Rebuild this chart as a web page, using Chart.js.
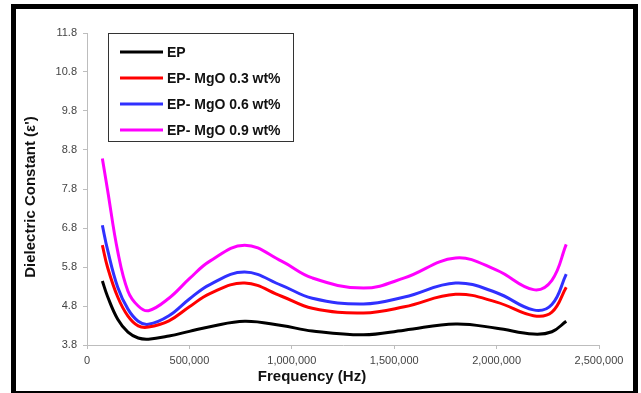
<!DOCTYPE html>
<html>
<head>
<meta charset="utf-8">
<script src="https://cdn.jsdelivr.net/npm/chart.js@4/dist/chart.umd.min.js"></script>
<style>
  html, body { margin: 0; padding: 0; background: #fff; }
  #frame {
    position: absolute; left: 11px; top: 4px;
    width: 627px; height: 392px;
    box-sizing: border-box;
    border: 5px solid #000;
    background: #fff;
  }
  #wrap { position: relative; width: 617px; height: 382px; }
</style>
</head>
<body>
<div id="frame">
  <div id="wrap"><canvas id="dielChart"></canvas></div>
</div>

<script>
// frequency points (Hz)
var freqs = [75000, 100000, 150000, 200000, 250000, 300000, 400000, 500000, 600000,
             770000, 950000, 1100000, 1350000, 1550000, 1800000, 2000000, 2180000, 2270000, 2340000];

// dielectric constant
var epValues    = [5.44, 5.05, 4.46, 4.13, 3.98, 3.95, 4.03, 4.15, 4.27, 4.41, 4.30, 4.16, 4.06, 4.18, 4.34, 4.23, 4.08, 4.14, 4.41];
var mgo03Values = [6.36, 5.80, 5.03, 4.54, 4.29, 4.26, 4.42, 4.78, 5.12, 5.39, 5.05, 4.74, 4.62, 4.78, 5.10, 4.90, 4.55, 4.64, 5.28];
var mgo06Values = [6.87, 6.25, 5.28, 4.72, 4.41, 4.33, 4.55, 4.98, 5.35, 5.67, 5.33, 5.00, 4.85, 5.03, 5.39, 5.14, 4.70, 4.84, 5.62];
var mgo09Values = [8.58, 7.79, 6.20, 5.18, 4.80, 4.68, 5.00, 5.50, 5.95, 6.36, 5.95, 5.52, 5.26, 5.52, 6.03, 5.72, 5.22, 5.46, 6.38];

var seriesNames  = ['EP', 'EP- MgO 0.3 wt%', 'EP- MgO 0.6 wt%', 'EP- MgO 0.9 wt%'];
var seriesColors = ['#000000', '#ff0000', '#3030ff', '#ff00ff'];
var allValues    = [epValues, mgo03Values, mgo06Values, mgo09Values];

var xTicks = [0, 500000, 1000000, 1500000, 2000000, 2500000];
var yMin = 3.8, yMax = 11.8, yStep = 1;

function toPoints(vals) {
    return vals.map(function(v, i) { return { x: freqs[i], y: v }; });
}

var datasets = allValues.map(function(vals, i) {
    return {
        label: seriesNames[i],
        data: toPoints(vals),
        borderColor: seriesColors[i],
        backgroundColor: seriesColors[i],
        borderWidth: 3,
        pointRadius: 0,
        tension: 0.4,
        fill: false
    };
});

// legend box inside the plot + axis titles
var extras = {
    id: 'extras',
    afterDraw: function(chart) {
        var ctx = chart.ctx;
        var area = chart.chartArea;
        ctx.save();

        // legend
        var bx = area.left + 21, by = area.top, bw = 185, bh = 108;
        ctx.fillStyle = '#fff';
        ctx.fillRect(bx, by, bw, bh);
        ctx.strokeStyle = '#333';
        ctx.lineWidth = 1;
        ctx.strokeRect(bx + 0.5, by + 0.5, bw, bh);
        ctx.font = 'bold 14px "Liberation Sans", Arial, sans-serif';
        ctx.textBaseline = 'middle';
        chart.data.datasets.forEach(function(ds, i) {
            var y = by + 19 + i * 26;
            ctx.strokeStyle = ds.borderColor;
            ctx.lineWidth = 3;
            ctx.beginPath();
            ctx.moveTo(bx + 12, y);
            ctx.lineTo(bx + 55, y);
            ctx.stroke();
            ctx.fillStyle = '#111';
            ctx.fillText(ds.label, bx + 59, y + 1);
        });

        // axis titles
        ctx.fillStyle = '#111';
        ctx.font = 'bold 15px "Liberation Sans", Arial, sans-serif';
        ctx.textAlign = 'center';
        ctx.fillText('Frequency (Hz)', 296, 368);
        ctx.translate(15, 188);
        ctx.rotate(-Math.PI / 2);
        ctx.fillText("Dielectric Constant (\u03b5')", 0, 0);
        ctx.restore();
    }
};

var axisGray = '#bdbdbd';
var tickFont = { family: '"Liberation Sans", Arial, sans-serif', size: 11 };

new Chart(document.getElementById('dielChart').getContext('2d'), {
    type: 'line',
    data: { datasets: datasets },
    options: {
        responsive: true,
        maintainAspectRatio: false,
        animation: false,
        layout: { padding: { top: 24, right: 34, left: 0, bottom: 0 } },
        plugins: {
            legend: { display: false },
            tooltip: { enabled: false }
        },
        scales: {
            x: {
                type: 'linear',
                min: 0,
                max: 2500000,
                afterFit: function(scale) { scale.height = 46; },
                afterBuildTicks: function(scale) {
                    scale.ticks = xTicks.map(function(v) { return { value: v }; });
                },
                ticks: {
                    color: '#444',
                    font: tickFont,
                    padding: 5,
                    maxRotation: 0,
                    callback: function(v) { return Number(v).toLocaleString('en-US'); }
                },
                grid: { drawOnChartArea: false, drawTicks: true, tickLength: 4, color: axisGray },
                border: { color: axisGray, width: 1 }
            },
            y: {
                type: 'linear',
                min: yMin,
                max: yMax,
                afterFit: function(scale) { scale.width = 71; },
                ticks: {
                    stepSize: yStep,
                    color: '#444',
                    font: tickFont,
                    padding: 6,
                    callback: function(v) { return Number(v).toFixed(1); }
                },
                grid: { drawOnChartArea: false, drawTicks: true, tickLength: 4, color: axisGray },
                border: { color: axisGray, width: 1 }
            }
        }
    },
    plugins: [extras]
});
</script>
</body>
</html>
